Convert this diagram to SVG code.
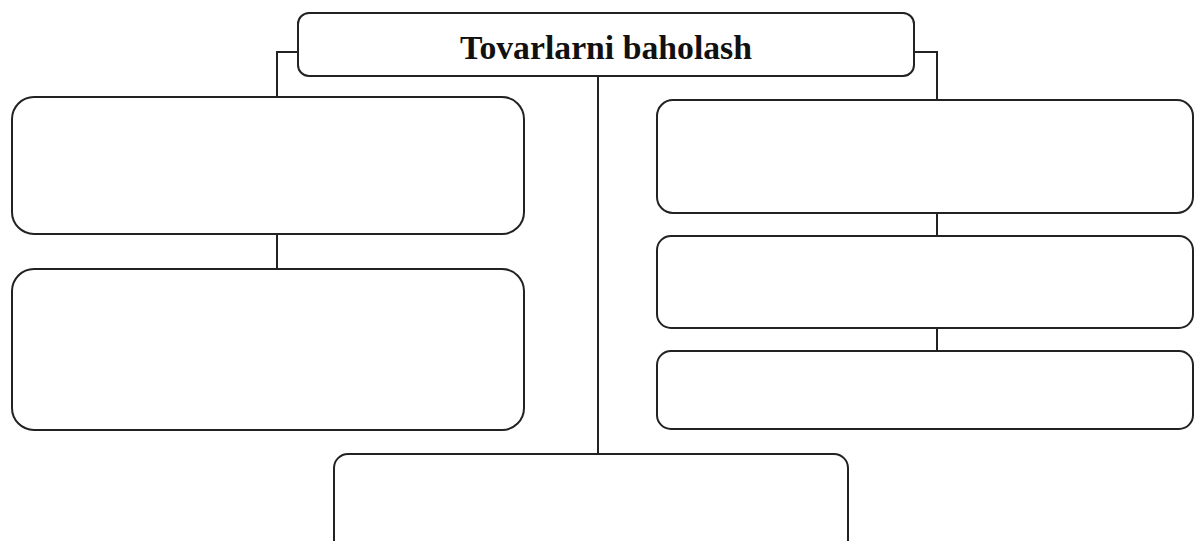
<svg xmlns="http://www.w3.org/2000/svg" width="1196" height="541" viewBox="0 0 1196 541">
<style>
.box{fill:#fff;stroke:#222;stroke-width:2}
.conn{fill:none;stroke:#222;stroke-width:2}
.title{font-family:"Liberation Serif","Times New Roman",serif;font-weight:bold;font-size:33px;fill:#111}
</style>
<rect width="1196" height="541" fill="#fff"/>
<g id="connectors">
<path class="conn" d="M298 52 H277 V97"/>
<path class="conn" d="M914 52 H937 V100"/>
<path class="conn" d="M598 76 V454"/>
<path class="conn" d="M277 234 V269"/>
<path class="conn" d="M937 213 V236"/>
<path class="conn" d="M937 328 V351"/>
</g>
<g id="top">
<rect class="box" x="298" y="13" width="616" height="63" rx="11"/>
<text class="title" x="606" y="59" text-anchor="middle" textLength="292" lengthAdjust="spacingAndGlyphs">Tovarlarni baholash</text>
</g>
<g id="left1"><rect class="box" x="12" y="97" width="512" height="137" rx="22"/></g>
<g id="left2"><rect class="box" x="12" y="269" width="512" height="161" rx="22"/></g>
<g id="right1"><rect class="box" x="657" y="100" width="536" height="113" rx="16"/></g>
<g id="right2"><rect class="box" x="657" y="236" width="536" height="92" rx="14"/></g>
<g id="right3"><rect class="box" x="657" y="351" width="536" height="78" rx="14"/></g>
<g id="bottom"><rect class="box" x="334" y="454" width="514" height="110" rx="14"/></g>
</svg>
